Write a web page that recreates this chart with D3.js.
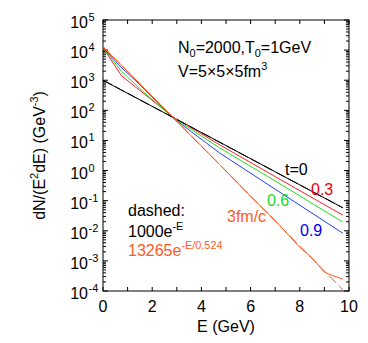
<!DOCTYPE html>
<html>
<head>
<meta charset="utf-8">
<script src="https://cdn.jsdelivr.net/npm/d3@7"></script>
<style>
  body { margin: 0; background: #fff; }
  svg { display: block; font-family: "Liberation Sans", Arial, Helvetica, sans-serif; }
</style>
</head>
<body>
<svg id="chart" width="368" height="343"></svg>
<script>
// =========================
// DATI
// =========================
const energyGrid = [0, 0.75, 1.5, 2.85, 4.75, 7, 9.75];
const spectrumT0 = [1000, 472, 223, 58, 8.7, 0.91, 0.058];
const spectrumT03 = [12000, 1410, 457, 60, 7.1, 0.63, 0.033];
const spectrumT06 = [12000, 2000, 525, 57, 5.6, 0.45, 0.0195];
const spectrumT09 = [12000, 2630, 708, 55, 3.8, 0.24, 0.0083];

const energyLate = [0, 0.75, 1.5, 2.85, 4.75, 6, 7, 8, 8.5, 9, 9.35, 9.75];
const spectrumT3 = [12600, 3160, 760, 57, 1.58, 0.14, 0.022, 0.0028, 0.00126, 0.00042, 0.00032, 0.00025];

const energyFit = [0, 9.75];
const fitT0 = [1000, 0.058];
const fitT3 = [13265, 0.00011];

const xTickLabels = [0, 2, 4, 6, 8, 10];
const yTickPowers = [-4, -3, -2, -1, 0, 1, 2, 3, 4, 5];

const curveLabels = ["t=0", "0.3", "0.6", "0.9", "3fm/c"];
const curveColors = ["#000000", "#ff2020", "#22e022", "#2040ff", "#ff5a1e"];
const labelColors = ["#000000", "#ee0000", "#22dd22", "#0000ee", "#ff5a1e"];

// =========================
// SCALE
// =========================
const svg = d3.select("#chart");
const mLeft = 103, mRight = 349, mTop = 20, mBottom = 291;

const x = d3.scaleLinear().domain([0, 10]).range([mLeft, mRight]);
const y = d3.scaleLog().domain([1e-4, 1e5]).range([mBottom, mTop]);

// testo con apici e pedici
function richText(sel, parts, size) {
  let shift = 0;
  parts.forEach(p => {
    const str = typeof p === "string" ? p : p[0];
    const kind = typeof p === "string" ? null : p[1];
    let target = 0;
    if (kind === "sup") target = -size * 0.42;
    if (kind === "sub") target = size * 0.22;
    sel.append("tspan")
      .attr("dy", target - shift)
      .attr("font-size", kind ? size * 0.68 : size)
      .text(str);
    shift = target;
  });
}

// =========================
// ASSI
// =========================
const frame = svg.append("g").attr("stroke", "#000").attr("stroke-width", 1).attr("fill", "none");
frame.append("rect")
  .attr("x", mLeft).attr("y", mTop)
  .attr("width", mRight - mLeft).attr("height", mBottom - mTop);

const xTicks = d3.range(0, 11);
const minorY = y.ticks().filter(v => Math.abs(Math.log10(v) - Math.round(Math.log10(v))) > 1e-6);
const majorY = yTickPowers.map(p => Math.pow(10, p));

xTicks.forEach(t => {
  frame.append("line").attr("x1", x(t)).attr("x2", x(t)).attr("y1", mBottom).attr("y2", mBottom - 4);
  frame.append("line").attr("x1", x(t)).attr("x2", x(t)).attr("y1", mTop).attr("y2", mTop + 4);
});
majorY.forEach(v => {
  frame.append("line").attr("x1", mLeft).attr("x2", mLeft + 5).attr("y1", y(v)).attr("y2", y(v));
  frame.append("line").attr("x1", mRight).attr("x2", mRight - 5).attr("y1", y(v)).attr("y2", y(v));
});
minorY.forEach(v => {
  frame.append("line").attr("x1", mLeft).attr("x2", mLeft + 3).attr("y1", y(v)).attr("y2", y(v));
  frame.append("line").attr("x1", mRight).attr("x2", mRight - 3).attr("y1", y(v)).attr("y2", y(v));
});

xTickLabels.forEach(t => {
  svg.append("text")
    .attr("x", x(t)).attr("y", mBottom + 21)
    .attr("text-anchor", "middle").attr("font-size", 16)
    .text(t);
});

yTickPowers.forEach(p => {
  svg.append("text")
    .attr("x", 88).attr("y", y(Math.pow(10, p)) + 8)
    .attr("text-anchor", "end").attr("font-size", 16)
    .text("10");
  svg.append("text")
    .attr("x", 88.5).attr("y", y(Math.pow(10, p)) + 1)
    .attr("font-size", 11)
    .text(p);
});

svg.append("text")
  .attr("x", (mLeft + mRight) / 2).attr("y", 332)
  .attr("text-anchor", "middle").attr("font-size", 16)
  .text("E (GeV)");

const yTitle = svg.append("text")
  .attr("transform", `translate(45,${(mTop + mBottom) / 2}) rotate(-90)`)
  .attr("text-anchor", "middle");
richText(yTitle, ["dN/(E", ["2", "sup"], "dE) (GeV", ["-3", "sup"], ")"], 16);

// =========================
// CURVE
// =========================
const line = d3.line()
  .x(d => x(d[0]))
  .y(d => y(d[1]));

const plot = svg.append("g");

const series = [
  { e: energyGrid, v: spectrumT0, color: curveColors[0] },
  { e: energyGrid, v: spectrumT03, color: curveColors[1] },
  { e: energyGrid, v: spectrumT06, color: curveColors[2] },
  { e: energyGrid, v: spectrumT09, color: curveColors[3] },
  { e: energyLate, v: spectrumT3, color: curveColors[4] }
];

series.forEach(s => {
  plot.append("path")
    .datum(d3.zip(s.e, s.v))
    .attr("fill", "none")
    .attr("stroke", s.color)
    .attr("stroke-width", 1)
    .attr("d", line);
});

[[fitT0, curveColors[0]], [fitT3, curveColors[4]]].forEach(([vals, color]) => {
  plot.append("path")
    .datum(d3.zip(energyFit, vals))
    .attr("fill", "none")
    .attr("stroke", color)
    .attr("stroke-width", 1)
    .attr("stroke-dasharray", "10,4")
    .attr("d", line);
});

// =========================
// ETICHETTE
// =========================
const labelPos = [[285, 175], [311, 195], [267, 206], [300, 236], [227, 222]];
curveLabels.forEach((lbl, i) => {
  svg.append("text")
    .attr("x", labelPos[i][0]).attr("y", labelPos[i][1])
    .attr("font-size", 16)
    .attr("fill", labelColors[i])
    .text(lbl);
});

const info1 = svg.append("text").attr("x", 178).attr("y", 53);
richText(info1, ["N", ["0", "sub"], "=2000,T", ["0", "sub"], "=1GeV"], 16);
const info2 = svg.append("text").attr("x", 178).attr("y", 77);
richText(info2, ["V=5×5×5fm", ["3", "sup"]], 16);

svg.append("text").attr("x", 128).attr("y", 216).attr("font-size", 16).text("dashed:");
const fit1 = svg.append("text").attr("x", 128).attr("y", 237);
richText(fit1, ["1000e", ["-E", "sup"]], 16);
const fit2 = svg.append("text").attr("x", 128).attr("y", 256).attr("fill", curveColors[4]);
richText(fit2, ["13265e", ["-E/0.524", "sup"]], 16);
</script>
</body>
</html>
